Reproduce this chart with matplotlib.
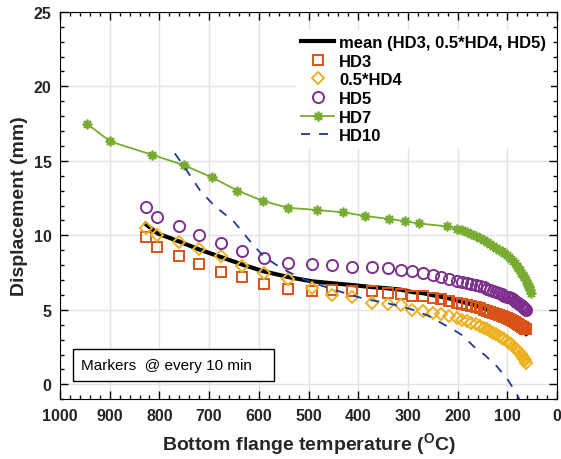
import numpy as np
import matplotlib
matplotlib.use("Agg")
import matplotlib.pyplot as plt
from matplotlib.patches import Rectangle
from matplotlib.ticker import MultipleLocator

plt.rcParams['font.family'] = ['Liberation Sans', 'DejaVu Sans']
plt.rcParams['mathtext.fontset'] = 'custom'
plt.rcParams['mathtext.bf'] = 'Liberation Sans:bold'
plt.rcParams['mathtext.rm'] = 'Liberation Sans:bold'

# bottom flange temperature at each 10 min marker (HD3, HD4, HD5)
temp = [828, 804, 760, 720, 677, 633, 590, 541, 494, 452, 413, 372, 341, 315,
        291, 270, 250, 233, 217, 202, 192, 182, 173, 164, 156, 148, 141, 134,
        128, 122, 116, 111, 106, 101, 97, 93, 89, 85, 82, 79, 76, 73, 70, 68,
        66, 64, 62]

hd3 = [9.9, 9.2, 8.6, 8.1, 7.55, 7.2, 6.75, 6.4, 6.25, 6.35, 6.25, 6.25, 6.15, 6.07,
       5.96, 5.9, 5.8, 5.7, 5.6, 5.47, 5.4, 5.33, 5.26, 5.18, 5.1, 5.02, 4.95, 4.87,
       4.8, 4.72, 4.64, 4.57, 4.5, 4.43, 4.37, 4.31, 4.24, 4.17, 4.11, 4.05, 3.99, 3.93,
       3.87, 3.83, 3.78, 3.74, 3.7]

hd4_half = [10.5, 10.0, 9.55, 9.05, 8.6, 7.95, 7.5, 7.05, 6.45, 6.0, 5.85, 5.47, 5.4, 5.3,
            5.0, 4.95, 4.8, 4.7, 4.6, 4.46, 4.35, 4.24, 4.13, 4.02, 3.91, 3.8, 3.69, 3.57,
            3.46, 3.35, 3.23, 3.12, 3.01, 2.89, 2.79, 2.68, 2.57, 2.45, 2.35, 2.25, 2.14,
            2.03, 1.91, 1.82, 1.72, 1.6, 1.45]

hd5 = [11.9, 11.2, 10.6, 10.0, 9.5, 8.95, 8.5, 8.15, 8.05, 8.0, 7.9, 7.85, 7.78, 7.7,
       7.6, 7.5, 7.35, 7.22, 7.1, 6.95, 6.88, 6.8, 6.73, 6.66, 6.58, 6.5, 6.42, 6.34,
       6.26, 6.18, 6.1, 6.03, 5.96, 5.89, 5.83, 5.77, 5.7, 5.62, 5.55, 5.48, 5.41, 5.33,
       5.25, 5.19, 5.13, 5.07, 5.0]

# HD7 has its own temperature record
temp7 = [946, 899, 814, 750, 695, 643, 591, 541, 483, 431, 386, 339, 306, 278, 222,
         202, 192, 182, 173, 164, 156, 148, 141, 134, 128, 122, 116, 111, 106, 101,
         97, 93, 89, 85, 81, 78, 75, 72, 69, 66, 63, 60, 58, 56, 54, 52]
hd7 = [17.5, 16.3, 15.4, 14.7, 13.9, 13.0, 12.3, 11.85, 11.7, 11.55, 11.3, 11.1, 10.95,
       10.8, 10.6, 10.45, 10.33, 10.2, 10.08, 9.96, 9.84, 9.7, 9.57, 9.43, 9.3, 9.17,
       9.04, 8.93, 8.82, 8.7, 8.57, 8.43, 8.28, 8.12, 7.95, 7.8, 7.65, 7.5, 7.34, 7.17,
       7.0, 6.82, 6.68, 6.52, 6.35, 6.15]

temp10 = [769, 750, 718, 690, 651, 620, 591, 555, 517, 485, 450, 415, 383, 350, 316,
          285, 256, 235, 210, 189, 168, 145, 121, 100, 81, 76]
hd10 = [15.5, 14.6, 13.0, 12.0, 10.95, 9.7, 8.6, 7.8, 7.15, 6.75, 6.36, 6.0, 5.7, 5.5,
        5.25, 4.95, 4.55, 4.15, 3.7, 3.25, 2.55, 1.95, 1.2, 0.35, -0.65, -1.0]

mean = np.mean([hd3, hd4_half, hd5], axis=0)

fig = plt.figure(figsize=(5.61, 4.60), dpi=100)
ax = fig.add_axes([0.107, 0.130, 0.886, 0.842])

ax.plot(temp, mean, color='black', lw=3, label='mean (HD3, 0.5*HD4, HD5)', zorder=3)
ax.plot(temp, hd3, ls='none', marker='s', ms=6.5, mfc='none', mec='#D95319', mew=1.4,
        label='HD3', zorder=4)
ax.plot(temp, hd4_half, ls='none', marker='D', ms=6.5, mfc='none', mec='#EDB120', mew=1.4,
        label='0.5*HD4', zorder=4)
ax.plot(temp, hd5, ls='none', marker='o', ms=8, mfc='none', mec='#7E2F8E', mew=1.4,
        label='HD5', zorder=4)
ax.plot(temp7, hd7, color='#77AC30', lw=1.3, marker=(8, 2, 0), ms=7, mew=1.3,
        label='HD7', zorder=4)
ax.plot(temp10, hd10, color='#1F3A93', lw=1.3, ls=(0, (5, 5)), label='HD10', zorder=5)

ax.set_xlim(1000, 0)
ax.set_ylim(-1, 25)
ax.xaxis.set_major_locator(MultipleLocator(100))
ax.xaxis.set_minor_locator(MultipleLocator(20))
ax.yaxis.set_major_locator(MultipleLocator(5))
ax.yaxis.set_minor_locator(MultipleLocator(1))
ax.tick_params(which='both', direction='in', top=True, right=True, width=1)
ax.tick_params(which='major', length=6, labelsize=11.5, pad=6)
ax.tick_params(which='minor', length=3)
for lab in ax.get_xticklabels() + ax.get_yticklabels():
    lab.set_fontweight('bold')
    lab.set_color('#262626')
ax.grid(which='major', color='#E3E3E3', lw=1)
ax.set_axisbelow(True)

ax.set_xlabel(r'Bottom flange temperature ($^{\rm O}$C)', fontsize=14, fontweight='bold',
              color='#262626', labelpad=6)
ax.set_ylabel('Displacement (mm)', fontsize=14, fontweight='bold', color='#262626')

leg = ax.legend(loc='upper right', bbox_to_anchor=(0.995, 0.962), numpoints=1,
                handlelength=2.0, labelspacing=0.22, handletextpad=0.3,
                borderaxespad=0.2, borderpad=0.3, frameon=True, fancybox=False,
                prop={'weight': 'bold', 'size': 12})
leg.get_frame().set_edgecolor('none')
leg.get_frame().set_facecolor('white')
leg.get_frame().set_alpha(1)

ax.add_patch(Rectangle((0.026, 0.047), 0.404, 0.082, transform=ax.transAxes,
                       facecolor='white', edgecolor='black', lw=1, zorder=6))
ax.text(0.042, 0.088, 'Markers  @ every 10 min', transform=ax.transAxes,
        fontsize=11, va='center', ha='left', zorder=7)

fig.savefig('out.png', dpi=100)
